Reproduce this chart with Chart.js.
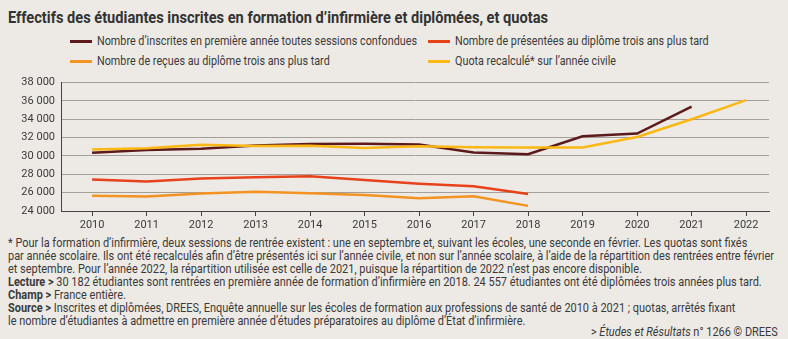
<!DOCTYPE html>
<html lang="fr">
<head>
<meta charset="utf-8">
<script src="https://cdn.jsdelivr.net/npm/chart.js@4.4.1/dist/chart.umd.min.js"></script>
<style>
  body { margin: 0; width: 788px; height: 339px; background: #edeae5; color: #3a3a3a;
         font-family: Roboto, "Noto Sans", sans-serif; position: relative; overflow: hidden; }
  .t { position: absolute; white-space: nowrap; line-height: 1; transform-origin: left center; }
  .r { transform-origin: right center; }
  .title { font-size: 17px; font-weight: 700; color: #333; }
  .leg { font-size: 13px; }
  .note { font-size: 13px; }
  .sw { position: absolute; width: 22px; height: 3px; }
  #box { position: absolute; left: 0; top: 70px; width: 788px; height: 165px; }
</style>
</head>
<body>
<div class="t title" style="left:8px; top:9px" data-ref="540">Effectifs des étudiantes inscrites en formation d’infirmière et diplômées, et quotas</div>

<div class="sw" style="left:70px; top:40px; background:#5c1a1c"></div>
<div class="t leg" style="left:97px; top:34px" data-ref="320">Nombre d’inscrites en première année toutes sessions confondues</div>
<div class="sw" style="left:428px; top:40px; background:#e8421a"></div>
<div class="t leg" style="left:455px; top:34px">Nombre de présentées au diplôme trois ans plus tard</div>
<div class="sw" style="left:70px; top:60px; background:#f39322"></div>
<div class="t leg" style="left:97px; top:54px">Nombre de reçues au diplôme trois ans plus tard</div>
<div class="sw" style="left:428px; top:60px; background:#fbb814"></div>
<div class="t leg" style="left:455px; top:54px">Quota recalculé* sur l’année civile</div>

<div id="box"><canvas id="myChart"></canvas></div>

<div class="t note" style="left:8px; top:236px">* Pour la formation d’infirmière, deux sessions de rentrée existent : une en septembre et, suivant les écoles, une seconde en février. Les quotas sont fixés</div>
<div class="t note" style="left:8px; top:249px" data-ref="766">par année scolaire. Ils ont été recalculés afin d’être présentés ici sur l’année civile, et non sur l’année scolaire, à l’aide de la répartition des rentrées entre février</div>
<div class="t note" style="left:8px; top:262px">et septembre. Pour l’année 2022, la répartition utilisée est celle de 2021, puisque la répartition de 2022 n’est pas encore disponible.</div>
<div class="t note" style="left:8px; top:275px"><b>Lecture &gt;</b> 30 182 étudiantes sont rentrées en première année de formation d’infirmière en 2018. 24 557 étudiantes ont été diplômées trois années plus tard.</div>
<div class="t note" style="left:8px; top:288px"><b>Champ &gt;</b> France entière.</div>
<div class="t note" style="left:8px; top:301px"><b>Source &gt;</b> Inscrites et diplômées, DREES, Enquête annuelle sur les écoles de formation aux professions de santé de 2010 à 2021 ; quotas, arrêtés fixant</div>
<div class="t note" style="left:8px; top:314px">le nombre d’étudiantes à admettre en première année d’études préparatoires au diplôme d’État d’infirmière.</div>
<div class="t note r" style="right:10px; top:325px">&gt; <i>Études et Résultats</i> n° 1266 © DREES</div>

<script>
// données
const annees = [2010, 2011, 2012, 2013, 2014, 2015, 2016, 2017, 2018, 2019, 2020, 2021, 2022];
const inscrites = [30350, 30650, 30800, 31130, 31300, 31330, 31250, 30380, 30182, 32140, 32450, 35380];
const presentees = [27440, 27230, 27550, 27690, 27800, 27370, 26970, 26690, 25860];
const recues = [25650, 25570, 25900, 26110, 25940, 25750, 25400, 25610, 24557];
const quota = [30700, 30850, 31210, 31100, 31120, 30870, 31060, 30950, 30930, 30930, 32070, 34010, 36090];
const yTicks = [24000, 26000, 28000, 30000, 32000, 34000, 36000, 38000];

// la police de l'original est condensée : on resserre chaque groupe de textes du même facteur
['title', 'leg', 'note'].forEach(cls => {
    const els = [...document.querySelectorAll('.t.' + cls)];
    const ref = els.find(e => e.dataset.ref);
    const k = +ref.dataset.ref / ref.getBoundingClientRect().width;
    els.forEach(e => { e.style.transform = `scaleX(${k.toFixed(4)})`; });
});

const pts = arr => arr.map((v, i) => ({ x: annees[i], y: v }));
const fmt = v => String(v).replace(/\B(?=(\d{3})+(?!\d))/g, ' ');

const serie = (label, data, color) => ({
    label, data: pts(data), borderColor: color, backgroundColor: color,
    borderWidth: 2.5, pointRadius: 0, tension: 0
});

const ctx = document.getElementById('myChart').getContext('2d');
const myChart = new Chart(ctx, {
    type: 'line',
    data: {
        datasets: [
            serie('Quota recalculé* sur l’année civile', quota, '#fbb814'),
            serie('Nombre de reçues au diplôme trois ans plus tard', recues, '#f39322'),
            serie('Nombre de présentées au diplôme trois ans plus tard', presentees, '#e8421a'),
            serie('Nombre d’inscrites en première année toutes sessions confondues', inscrites, '#5c1a1c')
        ]
    },
    options: {
        responsive: true,
        maintainAspectRatio: false,
        animation: false,
        layout: { padding: { top: 10, right: 19, bottom: 0, left: 0 } },
        plugins: { legend: { display: false }, tooltip: { enabled: false } },
        scales: {
            x: {
                type: 'linear',
                min: 2009.43,
                max: 2022.42,
                afterBuildTicks: s => { s.ticks = annees.map(v => ({ value: v })); },
                afterFit: s => { s.height = 24; },
                ticks: { stepSize: 1, includeBounds: false, padding: 3, color: '#3a3a3a',
                         font: { family: 'Roboto', size: 11 }, callback: v => String(v) },
                grid: { drawOnChartArea: false, tickLength: 5, color: '#444' },
                border: { color: '#444', width: 1 }
            },
            y: {
                min: 24000,
                max: 38000,
                afterBuildTicks: s => { s.ticks = yTicks.map(v => ({ value: v })); },
                afterFit: s => { s.width = 61; },
                ticks: { padding: 6, color: '#3a3a3a', font: { family: 'Roboto', size: 11 }, callback: v => fmt(v) },
                grid: { color: '#a3a09b', drawTicks: false },
                border: { color: '#444', width: 1 }
            }
        }
    }
});
</script>
</body>
</html>
